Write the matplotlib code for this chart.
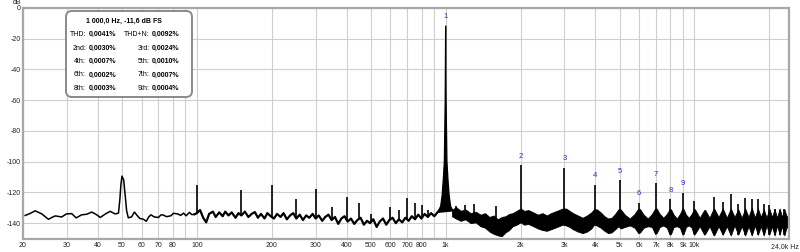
import numpy as np
import matplotlib
matplotlib.use("Agg")
import matplotlib.pyplot as plt
from matplotlib.patches import FancyBboxPatch

plt.rcParams["font.family"] = ["Liberation Sans", "DejaVu Sans"]

# low-frequency trace (line), Hz / dB
lf_freq = [20.4, 21.3, 22.4, 23.8, 25.3, 26.5, 27.0, 28.6, 29.9, 31.4, 32.7, 34.4,
           36.1, 37.8, 39.6, 40.9, 42.9, 44.8, 46.9, 48.4, 49.0, 49.5, 50.0, 50.8,
           51.5, 52.2, 53.0, 54.6, 56.1, 57.5, 59.0, 61.0, 62.6, 64.0, 65.3, 67.5,
           70.1, 71.5, 73.0, 75.5, 78.6, 80.5, 83.8, 86.0, 88.4, 90.5, 93.4, 95.5, 98.0]
lf_db = [-135.0, -133.8, -132.0, -134.0, -137.5, -135.8, -135.3, -136.0, -134.0, -133.8,
         -136.6, -134.6, -134.2, -132.8, -134.6, -136.3, -134.0, -132.3, -134.0, -133.5,
         -125.0, -115.0, -109.4, -112.0, -122.0, -132.0, -136.5, -136.0, -132.8, -135.0,
         -137.0, -137.5, -138.8, -136.0, -134.6, -136.0, -136.3, -134.8, -134.6, -135.8,
         -135.2, -133.6, -134.0, -135.0, -133.5, -135.2, -133.0, -134.5, -134.2]

# jagged trace 100 Hz .. 950 Hz
mid_freq = [98, 100, 103, 106, 109, 112, 116, 119, 123, 127, 130, 134, 138, 143, 147,
            151, 156, 161, 166, 171, 176, 181, 187, 192, 198, 204, 210, 217, 223, 230,
            237, 244, 251, 259, 267, 275, 283, 292, 300, 309, 319, 328, 338, 348, 359,
            370, 381, 392, 404, 416, 429, 442, 455, 469, 483, 497, 512, 528, 543, 560,
            577, 594, 612, 630, 649, 669, 689, 710, 731, 753, 776, 799, 823, 848, 873,
            900, 927, 950]
mid_db = [-134.2, -133.5, -131.5, -136.5, -139.5, -134.0, -132.5, -136.0, -133.0, -135.5,
          -132.5, -135.0, -133.0, -136.5, -133.5, -135.0, -132.5, -136.0, -134.0, -132.8,
          -136.5, -134.0, -137.0, -133.5, -135.5, -137.0, -134.0, -136.0, -133.5, -137.5,
          -135.0, -133.5, -137.0, -134.5, -138.0, -135.0, -136.5, -134.0, -137.0, -135.0,
          -138.5, -136.0, -134.5, -138.0, -136.0, -140.5, -137.0, -135.5, -139.0, -137.0,
          -140.5, -138.0, -136.5, -141.0, -138.5, -140.0, -137.5, -142.5, -139.0, -137.0,
          -141.0, -138.0, -136.5, -140.0, -137.5, -139.5, -136.5, -138.5, -135.5, -137.5,
          -134.5, -137.0, -134.0, -136.0, -133.5, -135.5, -133.0, -131.0]

# dense noise band above 1 kHz: upper and lower envelope
band_freq = [1060, 1100, 1150, 1200, 1260, 1320, 1380, 1440, 1500, 1560, 1620, 1680,
             1740, 1800, 1860, 1930, 2000, 2070, 2150, 2250, 2350, 2450, 2550, 2650,
             2750, 2850, 2950, 3050, 3150, 3250, 3400, 3550, 3700, 3850, 3950, 4050,
             4200, 4350, 4500, 4650, 4800, 4950, 5050, 5250, 5500, 5750, 5950, 6050,
             6250, 6500, 6750, 6950, 7050, 7250, 7500, 7750, 7950, 8050, 8250, 8500,
             8750, 8950, 9050, 9250, 9500, 9750, 9950, 10050, 10500, 10950, 11050,
             11500, 11950, 12050, 12500, 13000, 13500, 14000, 14500, 15000, 15500,
             16000, 16500, 17000, 17500, 18000, 18500, 19000, 19500, 20000, 20500,
             21000, 21500, 22000, 22500, 23000, 23500, 24000]
band_hi = [-131.5, -129.5, -132.0, -131.0, -133.5, -132.5, -134.5, -133.5, -136.0, -135.0,
           -137.5, -136.0, -135.5, -134.0, -133.5, -132.0, -130.5, -132.0, -131.5, -133.0,
           -134.5, -133.5, -135.0, -133.5, -132.5, -131.5, -130.5, -130.5, -132.0, -133.5,
           -135.0, -136.5, -135.0, -133.0, -131.0, -131.0, -133.0, -135.5, -137.0, -136.5,
           -134.0, -131.0, -131.0, -134.5, -137.0, -134.0, -130.5, -131.0, -134.5, -137.0,
           -134.0, -130.5, -130.5, -134.0, -136.5, -134.0, -131.0, -131.0, -134.5, -137.0,
           -134.0, -130.5, -131.0, -134.5, -136.5, -134.0, -131.0, -131.0, -136.5, -131.5,
           -131.5, -136.5, -130.5, -131.0, -136.0, -130.5, -136.5, -130.5, -136.0, -131.0,
           -136.5, -130.5, -136.0, -130.0, -136.5, -130.5, -136.0, -131.0, -136.5, -130.5,
           -136.0, -131.0, -136.5, -130.5, -136.0, -131.0, -136.0, -134.0]
band_lo = [-135.5, -137.0, -138.5, -137.5, -140.0, -139.5, -142.0, -143.0, -145.5, -147.0,
           -148.0, -148.5, -146.0, -144.5, -142.0, -141.0, -139.5, -141.0, -140.5, -142.0,
           -143.5, -144.5, -145.0, -144.0, -143.0, -142.0, -141.0, -141.5, -142.5, -144.0,
           -145.5, -146.5, -145.5, -143.5, -141.0, -141.5, -143.0, -145.0, -146.5, -146.0,
           -144.0, -142.0, -143.5, -142.5, -141.5, -143.0, -146.5, -146.0, -143.0, -142.0,
           -142.5, -147.0, -146.5, -142.5, -141.5, -143.0, -147.5, -147.0, -142.5, -142.0,
           -143.0, -147.5, -147.0, -142.5, -141.5, -143.0, -147.5, -147.0, -142.0, -147.5,
           -147.0, -142.0, -148.0, -147.5, -142.0, -147.5, -142.0, -148.0, -141.5, -147.5,
           -142.0, -148.0, -142.0, -148.0, -141.5, -147.5, -142.0, -148.0, -141.5, -147.5,
           -142.0, -148.0, -141.5, -147.5, -142.0, -148.0, -142.0, -145.0]

# fundamental main lobe
fund_freq = [930, 955, 968, 978, 988, 996, 1000, 1004, 1012, 1022, 1033, 1047, 1070]
fund_db = [-133.0, -129.0, -122.0, -112.0, -100.0, -60.0, -11.6, -60.0, -100.0,
           -112.0, -122.0, -129.0, -132.0]

# discrete spectral lines (mains hum, harmonics, idle tones)
spike_freq = [100, 150, 200, 250, 300, 350, 400, 450, 500, 600, 650, 700, 750, 800, 850,
              1100, 1200, 1300, 1600, 2000, 3000, 4000, 5000, 6000, 7000, 8000, 9000,
              10000, 12000, 13000, 14000, 15000, 16000, 17000, 18000, 19000, 20000,
              21000, 22000, 23000]
spike_db = [-114.9, -118.6, -115.3, -124.0, -117.9, -129.4, -122.9, -126.8, -134.2, -129.4,
            -131.2, -123.6, -126.8, -127.9, -131.2, -129.0, -127.9, -127.7, -129.0, -102.3,
            -103.8, -114.9, -112.1, -126.8, -114.2, -124.5, -120.1, -125.3, -123.3, -126.2,
            -121.2, -127.3, -123.5, -124.0, -124.6, -127.6, -128.5, -131.0, -131.2, -131.0]

harm_num = [1, 2, 3, 4, 5, 6, 7, 8, 9]
harm_freq = [1000, 2000, 3000, 4000, 5000, 6000, 7000, 8000, 9000]
harm_db = [-11.6, -102.3, -103.8, -114.9, -112.1, -126.8, -114.2, -124.5, -120.1]

x_ticks = [20, 30, 40, 50, 60, 70, 80, 90, 100, 200, 300, 400, 500, 600, 700, 800, 900,
           1000, 2000, 3000, 4000, 5000, 6000, 7000, 8000, 9000, 10000, 20000]
x_labels = ["20", "30", "40", "50", "60", "70", "80", "", "100", "200", "300", "400",
            "500", "600", "700", "800", "", "1k", "2k", "3k", "4k", "5k", "6k", "7k",
            "8k", "9k", "10k", ""]
y_ticks = [0, -20, -40, -60, -80, -100, -120, -140]
y_labels = ["0", "-20", "-40", "-60", "-80", "-100", "-120", "-140"]

info_title = "1 000,0 Hz, -11,6 dB FS"
info_left = [("THD:", "0,0041%"), ("2nd:", "0,0030%"), ("4th:", "0,0007%"),
             ("6th:", "0,0002%"), ("8th:", "0,0003%")]
info_right = [("THD+N:", "0,0092%"), ("3rd:", "0,0024%"), ("5th:", "0,0010%"),
              ("7th:", "0,0007%"), ("9th:", "0,0004%")]

W, H = 800, 252
fig = plt.figure(figsize=(W / 100, H / 100), dpi=100)
ax = fig.add_axes([23 / W, (H - 238.5) / H, 766 / W, 230.5 / H])
ax.set_xscale("log")
ax.set_xlim(20, 24000)
ax.set_ylim(-150, 0)
ax.minorticks_off()
ax.set_xticks(x_ticks)
ax.set_xticklabels(x_labels)
ax.set_yticks(y_ticks)
ax.set_yticklabels(y_labels)
ax.tick_params(length=0, labelsize=5, colors="#222222", pad=2.5)
ax.tick_params(axis="y", pad=1.5)
ax.grid(True, color="#cfcfcf", lw=0.8)
ax.set_axisbelow(True)
for s in ax.spines.values():
    s.set_color("#a8a8a8")
    s.set_linewidth(1.6)

ax.plot(lf_freq, lf_db, color="black", lw=1.1)
ax.plot(mid_freq, mid_db, color="black", lw=1.6)
ax.fill_between(band_freq, band_lo, band_hi, color="black", lw=0.6)
ax.fill(fund_freq, fund_db, color="black", lw=0.9)
spk_lo = np.interp(np.log10(spike_freq), np.log10(mid_freq + band_freq), mid_db + band_lo)
ax.vlines(spike_freq, spk_lo, spike_db, color="black", lw=1.2)

for n, f, d in zip(harm_num, harm_freq, harm_db):
    ax.annotate(str(n), (f, d), xytext=(0, 6.5), textcoords="offset points",
                ha="center", va="center", color="#2a2ad0", fontsize=5.5)

fig.text(21 / W, 1 - 3 / H, "dB", ha="right", va="center", fontsize=5, color="#222222")
fig.text(799 / W, 1 - 246.5 / H, "24,0k Hz", ha="right", va="center", fontsize=5,
         color="#222222")

# info box
box = FancyBboxPatch((0.66, (H - 97) / 100), 1.26, 0.86,
                     boxstyle="round,pad=0,rounding_size=0.06",
                     transform=fig.dpi_scale_trans, facecolor="white",
                     edgecolor="#8a8a8a", lw=1.4, zorder=5)
fig.add_artist(box)
fig.text(124 / W, 1 - 21 / H, info_title, ha="center", va="center", fontsize=5,
         fontweight="bold", zorder=6)
rows_y = [34, 48.3, 61.7, 75, 88.3]
for yy, (lab, val) in zip(rows_y, info_left):
    fig.text(86 / W, 1 - yy / H, lab, ha="right", va="center", fontsize=5, zorder=6)
    fig.text(88.5 / W, 1 - yy / H, val, ha="left", va="center", fontsize=5,
             fontweight="bold", zorder=6)
for yy, (lab, val) in zip(rows_y, info_right):
    fig.text(150 / W, 1 - yy / H, lab, ha="right", va="center", fontsize=5, zorder=6)
    fig.text(152 / W, 1 - yy / H, val, ha="left", va="center", fontsize=5,
             fontweight="bold", zorder=6)

fig.savefig("out.png", dpi=100)
